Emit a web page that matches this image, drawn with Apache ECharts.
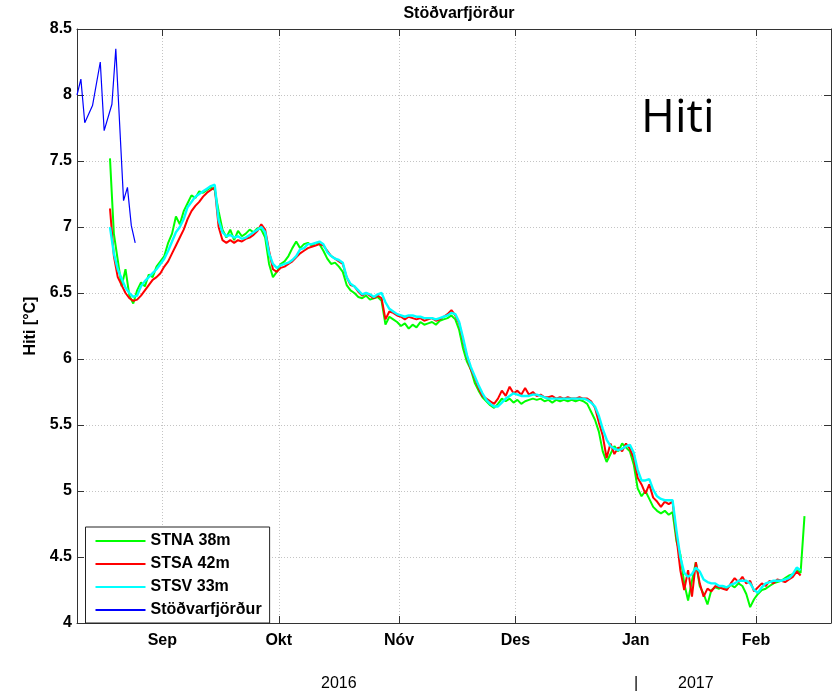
<!DOCTYPE html>
<html>
<head>
<meta charset="utf-8">
<script src="https://cdn.jsdelivr.net/npm/echarts@6/dist/echarts.min.js"></script>
<style>
  html, body { margin: 0; padding: 0; background: #fff; }
  #chart { width: 832px; height: 698px; }
</style>
</head>
<body>
<div id="chart"></div>
<script>
// mánaðaheiti á ásnum
const monthNames = ['Jan', 'Feb', 'Mar', 'Apr', 'Maí', 'Jún', 'Júl', 'Ágú', 'Sep', 'Okt', 'Nóv', 'Des'];
const yTicks = [4, 4.5, 5, 5.5, 6, 6.5, 7, 7.5, 8, 8.5];

// mælar: eitt gildi á dag frá 18. ágúst 2016 kl. 12
const loggerStart = new Date(2016, 7, 18, 12).getTime();
const DAY = 86400000;

const stna38 = [
  7.52, 6.95, 6.75, 6.55, 6.68, 6.48, 6.42, 6.52, 6.58, 6.55,
  6.64, 6.62, 6.70, 6.74, 6.78, 6.88, 6.95, 7.08, 7.02, 7.12,
  7.18, 7.24, 7.22, 7.27, 7.26, 7.28, 7.30, 7.28, 7.12, 6.98,
  6.92, 6.98, 6.90, 6.97, 6.93, 6.95, 6.98, 6.96, 6.99, 6.98,
  6.92, 6.72, 6.62, 6.66, 6.72, 6.74, 6.78, 6.84, 6.89, 6.84,
  6.87, 6.88, 6.86, 6.88, 6.87, 6.82, 6.76, 6.72, 6.73, 6.70,
  6.66, 6.56, 6.52, 6.50, 6.47, 6.46, 6.48, 6.45, 6.46, 6.47,
  6.44, 6.26, 6.32, 6.30, 6.28, 6.25, 6.27, 6.23, 6.26, 6.24,
  6.28, 6.26, 6.27, 6.28, 6.26, 6.29, 6.30, 6.31, 6.33, 6.30,
  6.22, 6.08, 5.98, 5.92, 5.82, 5.76, 5.71, 5.68, 5.65, 5.63,
  5.66, 5.70, 5.68, 5.70, 5.67, 5.69, 5.66, 5.68, 5.69, 5.70,
  5.69, 5.70, 5.68, 5.69, 5.67, 5.69, 5.68, 5.69, 5.68, 5.69,
  5.68, 5.69, 5.68, 5.66, 5.60, 5.54, 5.45, 5.30, 5.22, 5.28,
  5.34, 5.30, 5.36, 5.33, 5.30, 5.20, 5.02, 4.96, 5.00, 4.94,
  4.88, 4.85, 4.83, 4.85, 4.82, 4.84, 4.62, 4.52, 4.30, 4.17,
  4.32, 4.46, 4.28, 4.22, 4.14, 4.25, 4.27, 4.26, 4.28, 4.26,
  4.29, 4.27, 4.30, 4.28, 4.22, 4.12, 4.18, 4.22, 4.25, 4.26,
  4.28, 4.30, 4.31, 4.32, 4.34, 4.36, 4.37, 4.40, 4.38, 4.81
];

const stsa42 = [
  7.14, 6.78, 6.62, 6.56, 6.50, 6.46, 6.44, 6.45, 6.48, 6.52,
  6.56, 6.60, 6.62, 6.65, 6.70, 6.74, 6.80, 6.86, 6.92, 6.98,
  7.06, 7.12, 7.16, 7.19, 7.23, 7.26, 7.28, 7.30, 7.00, 6.90,
  6.88, 6.90, 6.88, 6.90, 6.89, 6.91, 6.92, 6.94, 6.97, 7.02,
  6.98, 6.82, 6.68, 6.66, 6.69, 6.70, 6.72, 6.74, 6.77, 6.80,
  6.82, 6.84, 6.85, 6.86, 6.87, 6.86, 6.82, 6.78, 6.76, 6.74,
  6.72, 6.62, 6.56, 6.55, 6.51, 6.48, 6.50, 6.48, 6.46, 6.48,
  6.46, 6.30, 6.36, 6.35, 6.33, 6.32, 6.30, 6.32, 6.31, 6.30,
  6.31, 6.29, 6.30, 6.31, 6.29, 6.30, 6.32, 6.34, 6.37, 6.33,
  6.27, 6.14, 6.02, 5.92, 5.86, 5.78, 5.72, 5.70, 5.68, 5.66,
  5.70, 5.76, 5.72, 5.79, 5.74, 5.76, 5.73, 5.78, 5.73, 5.75,
  5.72, 5.73, 5.71, 5.71, 5.72, 5.70, 5.71, 5.70, 5.71, 5.70,
  5.70, 5.71, 5.70, 5.70, 5.68, 5.63, 5.52, 5.42, 5.25, 5.36,
  5.28, 5.33, 5.30, 5.36, 5.32, 5.25, 5.10, 5.05, 4.98, 5.05,
  4.95, 4.92, 4.88, 4.92, 4.90, 4.92, 4.65, 4.40, 4.25, 4.40,
  4.20, 4.46, 4.30, 4.20, 4.26, 4.24, 4.28, 4.27, 4.26, 4.25,
  4.30, 4.34, 4.31, 4.35, 4.30, 4.32, 4.24, 4.27, 4.30, 4.28,
  4.32, 4.30, 4.33, 4.32, 4.31, 4.33, 4.35, 4.39, 4.36
];

const stsv33 = [
  7.00, 6.80, 6.68, 6.61, 6.54, 6.50, 6.47, 6.48, 6.55, 6.59,
  6.62, 6.65, 6.68, 6.72, 6.76, 6.82, 6.89, 6.96, 7.00, 7.06,
  7.15, 7.19, 7.23, 7.25, 7.27, 7.29, 7.31, 7.32, 7.05, 6.96,
  6.93, 6.94, 6.92, 6.93, 6.91, 6.92, 6.94, 6.96, 6.98, 7.00,
  6.96, 6.80, 6.72, 6.69, 6.71, 6.72, 6.73, 6.75, 6.78, 6.83,
  6.84, 6.87, 6.87, 6.88, 6.89, 6.87, 6.81, 6.78, 6.76, 6.75,
  6.73, 6.62, 6.57, 6.55, 6.52, 6.49, 6.50, 6.49, 6.47, 6.49,
  6.50, 6.43, 6.38, 6.36, 6.34, 6.33, 6.32, 6.33, 6.33, 6.32,
  6.32, 6.31, 6.31, 6.31, 6.30, 6.31, 6.32, 6.33, 6.35, 6.34,
  6.28, 6.16, 6.03, 5.94, 5.87, 5.80, 5.74, 5.69, 5.66, 5.64,
  5.64, 5.67, 5.70, 5.72, 5.74, 5.73, 5.72, 5.72, 5.72, 5.73,
  5.73, 5.72, 5.71, 5.70, 5.70, 5.70, 5.70, 5.70, 5.70, 5.70,
  5.70, 5.70, 5.70, 5.69, 5.67, 5.64, 5.57, 5.47, 5.39, 5.34,
  5.32, 5.31, 5.32, 5.34, 5.35, 5.29, 5.16, 5.08, 5.08, 5.09,
  5.01, 4.96, 4.94, 4.93, 4.93, 4.93, 4.70, 4.50, 4.38, 4.35,
  4.37, 4.42, 4.39, 4.33, 4.31, 4.30, 4.30, 4.28, 4.28, 4.27,
  4.29, 4.30, 4.32, 4.32, 4.32, 4.30, 4.25, 4.23, 4.27, 4.30,
  4.31, 4.32, 4.32, 4.32, 4.33, 4.34, 4.37, 4.42, 4.40
];

// Stöðvarfjörður, dagleg gildi
const fjordDays = ['2016-08-10', '2016-08-11', '2016-08-12', '2016-08-14', '2016-08-16', '2016-08-17',
                   '2016-08-19', '2016-08-20', '2016-08-22', '2016-08-23', '2016-08-24', '2016-08-25'];
const fjordValues = [8.00, 8.12, 7.79, 7.92, 8.25, 7.73, 7.93, 8.35, 7.20, 7.30, 7.01, 6.88];

function toSeries(values) {
  return values.map((v, i) => [loggerStart + i * DAY, v]);
}

const xMin = new Date(2016, 7, 10).getTime();
const xMax = new Date(2017, 1, 20, 8).getTime();
const axisColor = '#333';
const font = '"Liberation Sans", Arial, sans-serif';

let myChart = echarts.init(document.getElementById('chart'), null, { renderer: 'canvas' });

const option = {
  animation: false,
  backgroundColor: '#fff',
  title: {
    text: 'Stöðvarfjörður',
    left: 454,
    top: 1,
    textAlign: 'center',
    textStyle: { fontFamily: font, fontSize: 16, fontWeight: 'bold', color: '#000' }
  },
  grid: { left: 77, right: 1, top: 29, bottom: 75 },
  legend: {
    orient: 'vertical',
    left: 85.5,
    top: 527,
    padding: [6, 8, 5, 10],
    icon: 'rect',
    itemWidth: 50,
    itemHeight: 2,
    itemGap: 7,
    backgroundColor: '#fff',
    borderColor: '#222',
    borderWidth: 1,
    borderRadius: 0,
    textStyle: { fontFamily: font, fontSize: 16, fontWeight: 'bold', color: '#000', lineHeight: 14 },
    data: ['STNA 38m', 'STSA 42m', 'STSV 33m', 'Stöðvarfjörður']
  },
  xAxis: [{
    type: 'time',
    min: xMin,
    max: xMax,
    splitNumber: 7,
    axisLine: { lineStyle: { color: axisColor, width: 1 } },
    axisTick: { inside: true, length: 7, lineStyle: { color: axisColor } },
    minorTick: { show: false },
    axisLabel: {
      margin: 10,
      fontFamily: font, fontSize: 16, fontWeight: 'bold', color: '#000',
      formatter: function (v) { return monthNames[new Date(v).getMonth()]; }
    },
    splitLine: { show: true, lineStyle: { color: '#c4c4c4', type: [1, 2], width: 1 } }
  }, {
    type: 'time',
    position: 'top',
    min: xMin,
    max: xMax,
    splitNumber: 7,
    axisLine: { show: true, lineStyle: { color: axisColor, width: 1 } },
    axisTick: { show: true, inside: true, length: 7, lineStyle: { color: axisColor } },
    axisLabel: { show: false },
    splitLine: { show: false }
  }],
  yAxis: [{
    type: 'value',
    min: 4,
    max: 8.5,
    interval: 0.5,
    name: 'Hiti [°C]',
    nameLocation: 'middle',
    nameGap: 31,
    nameTextStyle: { fontFamily: font, fontSize: 16, fontWeight: 'bold', color: '#000' },
    axisLine: { show: true, lineStyle: { color: axisColor, width: 1 } },
    axisTick: { show: true, inside: true, length: 7, lineStyle: { color: axisColor } },
    axisLabel: {
      margin: 5,
      fontFamily: font, fontSize: 16, fontWeight: 'bold', color: '#000',
      formatter: function (v) { return yTicks.indexOf(v) >= 0 ? String(v) : ''; }
    },
    splitLine: { show: true, lineStyle: { color: '#c4c4c4', type: [1, 2], width: 1 } }
  }, {
    type: 'value',
    position: 'right',
    min: 4,
    max: 8.5,
    interval: 0.5,
    axisLine: { show: true, lineStyle: { color: axisColor, width: 1 } },
    axisTick: { show: true, inside: true, length: 7, lineStyle: { color: axisColor } },
    axisLabel: { show: false },
    splitLine: { show: false }
  }],
  series: [
    { name: 'STNA 38m', type: 'line', showSymbol: false, symbol: 'none', color: '#00ff00',
      lineStyle: { width: 2, color: '#00ff00' }, data: toSeries(stna38), z: 2 },
    { name: 'STSA 42m', type: 'line', showSymbol: false, symbol: 'none', color: '#ff0000',
      lineStyle: { width: 2, color: '#ff0000' }, data: toSeries(stsa42), z: 3 },
    { name: 'STSV 33m', type: 'line', showSymbol: false, symbol: 'none', color: '#00ffff',
      lineStyle: { width: 2.4, color: '#00ffff' }, data: toSeries(stsv33), z: 4 },
    { name: 'Stöðvarfjörður', type: 'line', showSymbol: false, symbol: 'none', color: '#0000ff',
      lineStyle: { width: 1.2, color: '#0000ff' },
      data: fjordDays.map((d, i) => [new Date(d + 'T00:00').getTime(), fjordValues[i]]), z: 5 }
  ],
  graphic: [
    { type: 'text', left: 641, top: 96,
      style: { text: 'Hiti', font: '46px "Open Sans", "Noto Sans", sans-serif', fill: '#000' } },
    { type: 'text', left: 321, top: 676,
      style: { text: '2016', font: '16px ' + font, fill: '#000' } },
    { type: 'text', left: 634, top: 676,
      style: { text: '|', font: '16px ' + font, fill: '#000' } },
    { type: 'text', left: 678, top: 676,
      style: { text: '2017', font: '16px ' + font, fill: '#000' } }
  ]
};

myChart.setOption(option);
window.onresize = myChart.resize;
</script>
</body>
</html>
